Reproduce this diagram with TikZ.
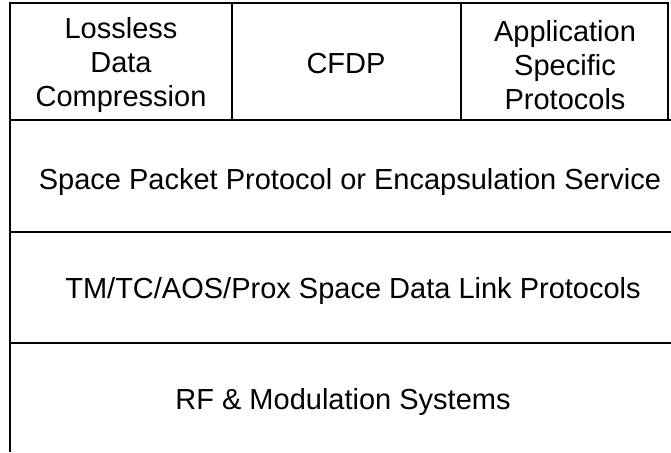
\documentclass[tikz,border=0pt]{standalone}
\usepackage{fontspec}
\setmainfont{Liberation Sans}
\begin{document}
\begin{tikzpicture}[x=1pt,y=1pt,
  rule/.style={line width=1.6pt,black},
  lbl/.style={font=\fontsize{29}{34}\selectfont,align=center,inner sep=0pt}]
\useasboundingbox (0,0) rectangle (671,452);
% corner coordinates
\coordinate (tl) at (10,449);
\coordinate (tr) at (668,449);
\coordinate (bl) at (10,0);
\coordinate (r1l) at (10,332);
\coordinate (r1r) at (671,332);
\coordinate (r1rr) at (668,332);
\coordinate (r2l) at (10,220);
\coordinate (r2r) at (671,220);
\coordinate (r3l) at (10,109);
\coordinate (r3r) at (671,109);
\coordinate (c1t) at (232,449);
\coordinate (c1b) at (232,332);
\coordinate (c2t) at (461,449);
\coordinate (c2b) at (461,332);
% lines
\draw[rule] (bl) -- (tl) -- (tr) -- (r1rr);
\draw[rule] (r1l) -- (r1r);
\draw[rule] (r2l) -- (r2r);
\draw[rule] (r3l) -- (r3r);
\draw[rule] (c1t) -- (c1b);
\draw[rule] (c2t) -- (c2b);
% labels
\node[lbl] (ldc) at (121,387) {Lossless\\Data\\Compression};
\node[lbl] (cfdp) at (346,388) {CFDP};
\node[lbl] (asp) at (565,387) {Application\\Specific\\Protocols};
\node[lbl] (spp) at (350,270) {Space Packet Protocol or Encapsulation Service};
\node[lbl] (dlp) at (353,161) {TM/TC/AOS/Prox Space Data Link Protocols};
\node[lbl] (rf) at (343,50) {RF \& Modulation Systems};
\end{tikzpicture}
\end{document}
